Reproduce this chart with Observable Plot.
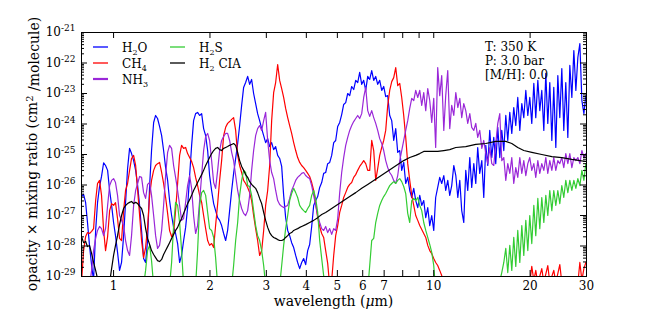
<!DOCTYPE html>
<html>
<head>
<meta charset="utf-8">
<script src="https://cdn.jsdelivr.net/npm/d3@7"></script>
<script src="https://cdn.jsdelivr.net/npm/@observablehq/plot@0.6"></script>
<style>
  html, body { margin: 0; padding: 0; background: #fff; }
  #chart svg { display: block; }
</style>
</head>
<body>
<div id="chart"></div>
<script>
const _ = null;

// Sampled wavelengths (µm) shared by H2O, CH4, NH3, H2S
const waveGrid = [
0.794,0.806,0.818,0.829,0.841,0.854,0.866,0.879,0.891,0.904,
0.917,0.931,0.944,0.958,0.972,0.986,1.000,1.014,1.029,1.044,
1.059,1.075,1.090,1.106,1.122,1.138,1.155,1.172,1.189,1.206,
1.223,1.241,1.259,1.277,1.296,1.314,1.334,1.353,1.372,1.392,
1.413,1.433,1.454,1.475,1.496,1.518,1.540,1.562,1.585,1.608,
1.631,1.655,1.679,1.703,1.728,1.753,1.778,1.804,1.830,1.857,
1.884,1.911,1.939,1.967,1.995,2.024,2.054,2.083,2.114,2.144,
2.175,2.207,2.239,2.271,2.304,2.338,2.371,2.406,2.441,2.476,
2.512,2.548,2.585,2.623,2.661,2.699,2.738,2.778,2.818,2.859,
2.901,2.943,2.985,3.029,3.073,3.117,3.162,3.208,3.255,3.302,
3.350,3.398,3.447,3.498,3.548,3.599,3.652,3.705,3.758,3.813,
3.868,3.924,3.981,4.039,4.097,4.157,4.217,4.278,4.340,4.403,
4.467,4.531,4.597,4.664,4.732,4.800,4.870,4.940,5.012,5.085,
5.158,5.233,5.309,5.386,5.464,5.543,5.623,5.705,5.788,5.871,
5.957,6.043,6.131,6.220,6.310,6.401,6.494,6.588,6.683,6.780,
6.879,6.978,7.079,7.182,7.286,7.392,7.499,7.608,7.718,7.830,
7.943,8.058,8.175,8.294,8.414,8.536,8.660,8.785,8.913,9.042,
9.173,9.306,9.441,9.578,9.716,9.857,10.00,10.14,10.29,10.44,
10.59,10.75,10.90,11.06,11.22,11.38,11.55,11.72,11.89,12.06,
12.23,12.41,12.59,12.77,12.96,13.14,13.34,13.53,13.72,13.92,
14.13,14.33,14.54,14.75,14.96,15.18,15.40,15.62,15.85,16.08,
16.31,16.55,16.79,17.03,17.28,17.53,17.78,18.04,18.30,18.57,
18.84,19.11,19.39,19.67,19.95,20.24,20.54,20.83,21.14,21.44,
21.75,22.07,22.39,22.71,23.04,23.38,23.71,24.06,24.41,24.76,
25.12,25.48,25.85,26.23,26.61,27.00,27.39,27.79,28.19,28.60,
29.02,29.44,29.86
];

// log10(opacity x mixing ratio), cm^2/molecule
const h2oLog = [
-26.38,-26.31,-26.58,-27.23,-27.98,-28.64,-29.13,-27.49,-26.58,-26.05,
-25.72,-25.27,-25.36,-25.52,-26.18,-26.67,-27.23,-27.66,-28.21,-28.80,
-28.54,-27.66,-26.58,-25.46,-24.80,-24.97,-25.20,-25.52,-26.02,-26.67,
-27.49,-28.41,-28.54,-27.82,-26.02,-24.87,-23.95,-23.72,-23.82,-24.08,
-24.38,-24.87,-25.43,-25.85,-26.51,-27.00,-27.39,-27.59,-27.92,-28.54,
-28.31,-27.82,-27.39,-26.74,-25.69,-24.70,-23.89,-23.66,-23.62,-23.72,
-23.66,-24.15,-24.38,-24.87,-25.69,-26.18,-26.61,-26.84,-27.07,-27.16,
-27.33,-27.59,-27.82,-27.49,-26.84,-26.18,-25.62,-25.13,-24.64,-24.05,
-23.39,-22.80,-22.64,-22.44,-22.70,-22.54,-23.00,-23.33,-23.66,-23.89,
-24.15,-24.38,-24.61,-24.48,-24.74,-24.61,-24.84,-24.74,-25.03,-25.13,
-25.39,-26.34,-27.07,-27.49,-27.66,-27.89,-28.05,-28.31,-28.54,-28.74,
-28.54,-28.41,-28.61,-28.15,-27.95,-27.36,-26.67,-26.51,-26.38,-26.08,
-25.92,-25.62,-25.59,-25.30,-25.26,-25.03,-24.61,-24.54,-24.08,-23.95,
-23.69,-23.36,-23.30,-23.00,-23.07,-22.77,-22.87,-22.57,-22.64,-22.31,
-22.70,-22.57,-22.90,-22.44,-22.54,-22.25,-22.57,-22.44,-22.70,-22.57,
-22.90,-22.77,-23.10,-23.07,-23.72,-23.89,-24.54,-24.15,-24.93,-24.87,
-25.52,-25.26,-25.95,-25.75,-26.18,-26.41,-26.11,-26.51,-26.74,-26.34,
-26.67,-26.51,-27.07,-26.74,-27.33,-27.00,-27.49,-26.41,-26.08,-25.75,
-25.95,-25.69,-26.18,-25.85,-26.34,-26.02,-25.36,-25.69,-26.41,-25.85,
-26.84,-27.23,-25.52,-26.18,-25.10,-26.08,-25.30,-25.95,-24.77,-25.62,
-25.20,-26.41,-24.70,-25.36,-24.21,-25.10,-24.44,-25.30,-24.11,-25.10,
-24.21,-24.87,-23.72,-24.54,-23.62,-24.31,-23.46,-24.05,-23.13,-24.21,
-23.33,-23.79,-22.90,-23.72,-23.13,-23.98,-22.67,-23.79,-22.57,-23.56,
-22.90,-24.21,-22.34,-23.98,-22.64,-24.54,-22.80,-24.77,-22.41,-23.79,
-22.18,-24.21,-22.64,-24.44,-22.08,-23.13,-21.59,-22.90,-21.82,-21.36,
-23.23,-23.66,-23.07
];

const ch4Log = [
-29.20,-28.15,-27.69,-27.56,-27.59,-27.52,-27.43,-26.51,-25.95,-25.85,
-26.34,-27.49,-28.15,-27.69,-26.84,-26.61,-26.67,-26.58,-27.10,-27.75,
-27.82,-26.84,-26.18,-25.95,-25.52,-25.13,-25.03,-25.36,-26.18,-27.00,
-27.82,-28.38,-28.05,-27.39,-26.34,-25.85,-25.52,-25.36,-25.30,-25.26,
-25.59,-25.95,-26.41,-26.93,-27.49,-27.69,-27.56,-26.84,-25.95,-25.03,
-24.70,-24.80,-24.77,-24.97,-25.10,-25.23,-25.43,-25.75,-26.02,-26.34,
-26.57,-27.00,-27.43,-27.82,-27.98,-27.92,-28.05,-27.33,-26.61,-25.85,
-25.20,-24.38,-24.11,-23.98,-23.92,-23.85,-23.79,-24.21,-25.03,-25.36,
-25.59,-25.85,-25.95,-26.08,-26.25,-26.51,-27.00,-27.43,-27.82,-28.31,
-28.15,-27.49,-26.67,-26.18,-25.36,-23.89,-22.97,-22.64,-22.05,-22.57,
-22.84,-23.13,-23.49,-23.79,-24.05,-24.31,-24.61,-24.87,-25.10,-25.26,
-25.36,-25.43,-25.52,-25.62,-25.72,-25.92,-26.18,-26.61,-27.07,-27.36,
-27.59,-27.72,-28.15,-28.57,-29.30,-29.13,-28.31,-27.66,-27.33,-26.90,
-26.67,-26.41,-26.25,-26.08,-25.98,-25.92,-25.75,-25.66,-25.52,-25.39,
-25.30,-25.20,-25.30,-25.52,-25.52,-24.54,-24.87,-25.85,-25.46,-25.03,
-24.77,-24.54,-24.21,-23.39,-22.90,-22.61,-22.48,-22.15,-22.74,-22.67,
-23.13,-23.72,-24.44,-25.30,-25.85,-26.34,-26.67,-27.00,-27.16,-27.33,
-27.46,-27.59,-27.72,-27.98,-28.15,-28.25,-28.41,-28.54,-28.64,-28.80,
-28.97,-29.30,
_,_,_,_,_,_,_,_,_,_,
_,_,_,_,_,_,_,_,_,_,
_,_,_,_,_,_,_,_,_,_,
_,_,_,_,_,_,_,_,_,_,
-29.30,_,-29.20,-28.67,-29.13,-28.80,-29.23,_,-28.74,-29.20,
_,-28.64,-29.20,_,-28.80,-29.20,_,-28.61,-29.20,_,
_,_,_,_,_,_,-29.23,-28.54,-29.13,-28.74,
-28.54
];

const nh3Log = [
_,_,_,_,
-29.30,-28.80,-28.15,-27.75,-27.49,-27.36,-27.43,-27.66,-27.43,-26.67,
-26.02,-25.85,-25.79,-25.92,-26.34,-27.00,-27.16,-27.33,-27.82,-28.15,
-28.31,-27.66,-26.67,-26.18,-25.95,-25.72,-25.75,-26.25,-26.44,-25.98,
-25.92,-26.34,-27.00,-27.66,-28.08,-27.98,-27.49,-26.67,-25.69,-24.93,
-24.70,-24.80,-25.36,-25.75,-26.18,-26.67,-27.16,-27.10,-26.57,-26.02,
-25.69,-26.11,-27.00,-27.59,-27.33,-26.51,-25.69,-24.87,-24.41,-24.31,
-24.54,-25.20,-25.92,-26.11,-25.52,-24.87,-24.54,-24.41,-24.31,-24.31,
-24.54,-24.93,-25.20,-25.69,-26.18,-26.51,-26.77,-26.93,-27.00,-26.84,
-26.34,-25.52,-24.87,-24.38,-24.15,-24.05,-24.21,-23.89,-23.62,-24.54,
-25.20,-25.59,-25.79,-26.18,-26.51,-26.64,-26.70,-26.74,-26.70,-26.67,
-26.44,-26.18,-26.02,-25.85,-25.75,-25.69,-25.62,-25.59,-25.69,-25.75,
-25.79,-26.02,-26.34,-26.67,-27.00,-27.23,-27.43,-27.49,-27.36,-27.56,
-27.43,-27.62,-27.43,-27.49,-27.10,-26.25,-25.59,-25.10,-24.70,-24.44,
-24.21,-24.05,-23.92,-23.82,-23.72,-23.82,-23.66,-23.13,-22.80,-23.56,
-23.75,-23.56,-23.79,-23.98,-24.21,-24.48,-24.64,-24.87,-25.20,-25.43,
-25.59,-25.69,-25.85,-25.95,-25.69,-25.20,-24.87,-24.54,-24.21,-23.89,
-23.49,-23.16,-23.23,-22.90,-23.13,-22.90,-23.39,-22.97,-23.56,-22.84,
-23.23,-23.95,-23.16,-24.77,-22.15,-23.07,-22.41,-24.21,-23.07,-22.25,
-24.15,-23.39,-23.72,-22.97,-23.46,-23.16,-23.79,-23.33,-23.56,-23.98,
-23.66,-24.11,-24.21,-23.98,-24.44,-24.21,-24.80,-24.54,-24.97,-25.30,
-24.77,-25.30,-25.36,-24.64,-23.98,-23.66,-25.20,-25.10,-25.85,-25.30,
-25.62,-25.10,-25.95,-25.43,-25.75,-25.10,-25.62,-25.20,-25.69,-25.30,
-25.10,-25.52,-25.30,-25.75,-25.20,-25.62,-25.30,-25.52,-25.10,-25.62,
-25.20,-25.52,-25.10,-25.52,-25.20,-25.30,-25.10,-25.43,-24.97,-25.30,
-24.97,-25.43,-25.10,-25.20,-25.10,-25.30,-24.87,-25.10,-24.97
];

const h2sLog = [
_,_,_,_,_,_,_,_,_,_,
_,_,_,_,_,_,_,_,_,_,
_,_,_,_,_,_,_,_,_,_,
_,
-29.30,-28.80,-28.15,-27.98,-28.48,-29.30,
_,_,_,_,_,_,_,
-29.30,-28.54,-27.33,-26.57,-26.67,-27.23,-28.15,-29.30,
_,_,_,_,_,
-29.30,-28.15,-26.67,-26.25,-26.18,-26.34,-26.90,-27.43,-27.49,-27.72,-28.38,-29.30,
_,_,_,_,_,_,
-29.30,-28.64,-27.82,-27.23,-26.34,-25.85,-25.52,-25.59,-26.02,-26.05,
-26.34,-26.84,-27.33,-27.66,-27.82,-28.15,-28.64,-29.30,
_,_,_,_,_,_,
-29.30,-28.64,-27.98,-27.43,-27.00,-26.51,-26.28,-26.11,-26.25,-26.41,
-26.67,-26.77,-26.84,-26.90,-26.77,-26.67,-26.34,-26.18,-26.44,-26.90,
-27.82,-28.41,-28.97,-29.46,
_,_,_,_,_,_,_,_,_,_,
_,_,_,_,_,_,_,_,_,_,
-29.46,-28.64,-27.82,-27.75,-27.23,-26.93,-26.67,-26.51,-26.38,-26.28,
-26.15,-26.02,-25.95,-25.89,-25.95,-25.85,-25.79,-25.89,-26.05,-26.28,
-26.93,-27.23,-26.51,-26.44,-26.51,-26.41,-26.67,-26.84,-27.23,-27.49,
-27.72,-27.95,-28.21,-28.64,-29.46,
_,_,_,_,_,_,_,_,_,_,
_,_,_,_,_,_,_,_,_,_,
_,_,_,_,_,_,_,_,_,_,
-29.46,_,-28.87,-28.54,-28.08,-28.87,-27.98,-28.80,-27.72,-28.67,
-27.49,-28.54,-27.33,-28.31,-27.16,-28.15,-27.00,-27.92,-26.67,-27.66,
-26.44,-27.43,-26.41,-27.23,-26.34,-27.00,-26.18,-26.84,-26.18,-26.67,
-26.18,-26.61,-26.02,-26.41,-25.85,-26.25,-25.85,-26.18,-25.85,-26.11,
-25.79,-26.02,-25.52,-25.85,-25.30
];

// H2 collision-induced absorption (own sampling)
const ciaWave = [
0.794,0.806,0.818,0.829,0.841,0.854,0.866,0.879,0.891,0.904,
0.958,0.972,0.986,1.000,1.014,1.029,1.044,1.059,1.075,1.090,
1.106,1.122,1.138,1.155,1.172,1.189,1.206,1.223,1.241,1.259,
1.277,1.296,1.314,1.334,1.353,1.372,1.392,1.413,1.433,1.454,
1.475,1.496,1.518,1.540,1.562,1.585,1.608,1.631,1.655,1.679,
1.703,1.728,1.753,1.778,1.804,1.830,1.857,1.884,1.911,1.939,
1.967,1.995,2.024,2.054,2.083,2.114,2.144,2.175,2.207,2.239,
2.271,2.304,2.338,2.371,2.406,2.441,2.476,2.512,2.548,2.585,
2.623,2.661,2.699,2.738,2.778,2.818,2.859,2.901,2.943,2.985,
3.029,3.073,3.117,3.162,3.208,3.255,3.302,3.350,3.398,3.447,
3.498,3.548,3.599,3.652,3.705,3.758,3.813,3.868,3.981,4.097,
4.217,4.340,4.467,4.597,4.800,5.012,5.233,5.464,5.705,5.957,
6.220,6.494,6.780,7.079,7.392,7.718,8.058,8.414,8.785,9.042,
9.306,9.578,9.857,10.29,10.75,11.22,11.72,12.59,13.53,14.54,
15.62,16.79,17.53,18.30,19.11,20.24,21.75,23.38,25.12,27.00,
28.60,29.86
];
const ciaLog = [
-27.69,-27.89,-27.85,-28.02,-27.98,-28.25,-28.54,-28.80,-29.07,-29.30,
-29.30,-29.20,-28.74,-28.31,-27.98,-27.66,-27.30,-27.00,-26.77,-26.67,
-26.61,-26.57,-26.54,-26.61,-26.57,-26.61,-26.70,-26.77,-27.00,-27.43,
-27.75,-27.95,-28.15,-28.28,-28.38,-28.48,-28.51,-28.44,-28.28,-28.15,
-28.02,-27.89,-27.75,-27.62,-27.49,-27.39,-27.23,-27.10,-26.93,-26.77,
-26.61,-26.48,-26.34,-26.18,-26.05,-25.92,-25.79,-25.66,-25.52,-25.36,
-25.23,-25.10,-24.97,-24.87,-24.80,-24.77,-24.84,-24.87,-24.80,-24.77,
-24.74,-24.70,-24.67,-24.64,-24.70,-24.93,-25.20,-25.39,-25.52,-25.66,
-25.75,-25.89,-25.98,-26.05,-26.11,-26.25,-26.44,-26.61,-26.90,-27.16,
-27.39,-27.56,-27.66,-27.72,-27.75,-27.79,-27.82,-27.82,-27.79,-27.72,
-27.66,-27.59,-27.56,-27.49,-27.46,-27.43,-27.39,-27.36,-27.30,-27.23,
-27.16,-27.07,-26.97,-26.90,-26.77,-26.64,-26.51,-26.38,-26.25,-26.11,
-25.98,-25.85,-25.72,-25.59,-25.46,-25.33,-25.20,-25.10,-25.03,-24.97,
-24.90,-24.90,-24.90,-24.90,-24.87,-24.84,-24.77,-24.74,-24.67,-24.64,
-24.57,-24.57,-24.64,-24.77,-24.87,-24.93,-25.00,-25.07,-25.10,-25.16,
-25.20,-25.23
];

// Axis ticks
const xTicks = [1, 2, 3, 4, 5, 6, 7, 8, 9, 10, 20, 30];
const yMajor = [1e-29, 1e-28, 1e-27, 1e-26, 1e-25, 1e-24, 1e-23, 1e-22, 1e-21];
const yMinorFactors = [2, 3, 4, 5, 6, 7, 8, 9];

// Annotation
const annotationLines = ["T: 350 K", "P: 3.0 bar", "[M/H]: 0.0"];

const colors = {h2o: "#0000ff", ch4: "#ff0000", nh3: "#9a27d8", h2s: "#33cc33", cia: "#000000"};

function toRows(wave, logs) {
  const rows = [];
  logs.forEach((v, i) => { if (v != null && wave[i] != null) rows.push({wave: wave[i], value: Math.pow(10, v)}); });
  return rows;
}
const h2oRows = toRows(waveGrid, h2oLog);
const ch4Rows = toRows(waveGrid, ch4Log);
const nh3Rows = toRows(waveGrid, nh3Log);
const h2sRows = toRows(waveGrid, h2sLog);
const ciaRows = toRows(ciaWave, ciaLog);

const yMinor = yMajor.slice(0, -1).flatMap(m => yMinorFactors.map(f => m * f));

const W = 651, H = 325, mL = 81, mR = 65, mT = 32, mB = 49;
const fw = W - mL - mR, fh = H - mT - mB;

const lineOpts = (c) => ({x: "wave", y: "value", stroke: c, strokeWidth: 1.2, clip: true, strokeLinejoin: "round"});

const chart = Plot.plot({
  width: W, height: H,
  marginLeft: mL, marginRight: mR, marginTop: mT, marginBottom: mB,
  style: {fontFamily: "DejaVu Serif", fontSize: "12px", background: "#fff", color: "#000", overflow: "visible"},
  x: {type: "log", domain: [0.794, 30], label: null},
  y: {type: "log", domain: [1e-29, 1e-21], label: null},
  marks: [
    Plot.line(h2oRows, lineOpts(colors.h2o)),
    Plot.line(ch4Rows, lineOpts(colors.ch4)),
    Plot.line(nh3Rows, lineOpts(colors.nh3)),
    Plot.line(h2sRows, lineOpts(colors.h2s)),
    Plot.line(ciaRows, lineOpts(colors.cia)),
    Plot.frame({stroke: "#000", strokeWidth: 1}),
    Plot.tickX(xTicks, {x: d => d, insetTop: fh - 6, stroke: "#000"}),
    Plot.tickX(xTicks, {x: d => d, insetBottom: fh - 6, stroke: "#000"}),
    Plot.tickY(yMajor, {y: d => d, insetRight: fw - 6, stroke: "#000"}),
    Plot.tickY(yMajor, {y: d => d, insetLeft: fw - 6, stroke: "#000"}),
    Plot.tickY(yMinor, {y: d => d, insetRight: fw - 3, stroke: "#000"}),
    Plot.tickY(yMinor, {y: d => d, insetLeft: fw - 3, stroke: "#000"}),
    Plot.axisX({ticks: xTicks, tickSize: 0, tickPadding: 5, tickFormat: d => String(d), label: null}),
    Plot.axisY({ticks: yMajor, tickSize: 0, tickPadding: 6, tickFormat: d => String(Math.round(Math.log10(d))), label: null})
  ]
});
document.getElementById("chart").appendChild(chart);

const svg = d3.select(chart);
const FONT = "DejaVu Serif";

// y tick labels as 10^n
svg.selectAll('g[aria-label="y-axis tick label"] text').each(function() {
  const t = d3.select(this);
  const exp = t.text();
  t.text(null);
  t.append("tspan").text("10");
  t.append("tspan").attr("dy", "-0.55em").attr("font-size", "9px").text(exp);
});

// axis titles
const xl = svg.append("text")
  .attr("x", mL + fw / 2).attr("y", 306)
  .attr("text-anchor", "middle").attr("font-family", FONT).attr("font-size", 14).attr("fill", "#000");
xl.append("tspan").text("wavelength (");
xl.append("tspan").attr("font-style", "italic").text("μ");
xl.append("tspan").text("m)");

const yl = svg.append("text")
  .attr("transform", `translate(37,${mT + fh / 2}) rotate(-90)`)
  .attr("text-anchor", "middle").attr("font-family", FONT).attr("font-size", 14).attr("fill", "#000");
yl.append("tspan").text("opacity × mixing ratio (cm");
yl.append("tspan").attr("dy", "-0.45em").attr("font-size", "10px").text("2");
yl.append("tspan").attr("dy", "0.45em").text(" /molecule)");

// legend
const legendItems = [
  {parts: [["H", 0], ["2", 1], ["O", 0]], color: colors.h2o, col: 0, row: 0, w: 1.3},
  {parts: [["CH", 0], ["4", 1]], color: colors.ch4, col: 0, row: 1, w: 1.3},
  {parts: [["NH", 0], ["3", 1]], color: colors.nh3, col: 0, row: 2, w: 2.2},
  {parts: [["H", 0], ["2", 1], ["S", 0]], color: colors.h2s, col: 1, row: 0, w: 1.3},
  {parts: [["H", 0], ["2", 1], [" CIA", 0]], color: colors.cia, col: 1, row: 1, w: 1.3}
];
const colX = [93, 170], rowY = [47, 63, 79];
const lg = svg.append("g").attr("font-family", FONT).attr("font-size", 12).attr("fill", "#000").attr("text-anchor", "start");
legendItems.forEach(it => {
  const x0 = colX[it.col], y0 = rowY[it.row];
  lg.append("line").attr("x1", x0).attr("x2", x0 + 15).attr("y1", y0).attr("y2", y0)
    .attr("stroke", it.color).attr("stroke-width", it.w);
  const t = lg.append("text").attr("x", x0 + 29).attr("y", y0 + 4.5).attr("text-anchor", "start");
  let sub = false;
  it.parts.forEach(([s, isSub]) => {
    const ts = t.append("tspan").text(s);
    if (isSub && !sub) { ts.attr("dy", 3).attr("font-size", 8); sub = true; }
    else if (!isSub && sub) { ts.attr("dy", -3); sub = false; }
  });
});

// annotation (three lines)
const an = svg.append("g").attr("font-family", FONT).attr("font-size", 12).attr("fill", "#000").attr("text-anchor", "start");
annotationLines.forEach((s, i) => an.append("text").attr("x", 485).attr("y", 51 + i * 14.2).attr("text-anchor", "start").text(s));
</script>
</body>
</html>
